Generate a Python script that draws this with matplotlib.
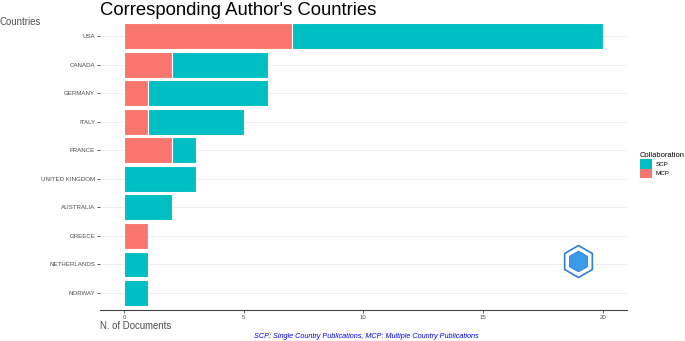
import matplotlib.pyplot as plt
from matplotlib.patches import Patch

plt.rcParams['font.family'] = ['Liberation Sans', 'DejaVu Sans']

# Данные
countries = ['USA', 'CANADA', 'GERMANY', 'ITALY', 'FRANCE', 'UNITED KINGDOM',
             'AUSTRALIA', 'GREECE', 'NETHERLANDS', 'NORWAY']
mcp = [7, 2, 1, 1, 2, 0, 0, 1, 0, 0]
scp = [13, 4, 5, 4, 1, 3, 2, 0, 1, 1]

col_scp = '#00BFC4'
col_mcp = '#F8766D'

fig = plt.figure(figsize=(6.85, 3.41), dpi=100)
ax = fig.add_axes([0.146, 0.091, 0.769, 0.853])

y = list(range(len(countries), 0, -1))
ax.barh(y, mcp, height=0.9, color=col_mcp, edgecolor='white', linewidth=0.8, zorder=3)
ax.barh(y, scp, left=mcp, height=0.9, color=col_scp, edgecolor='white', linewidth=0.8, zorder=3)

ax.set_xlim(-1, 21)
ax.set_ylim(0.4, len(countries) + 0.6)
ax.set_yticks(y)
ax.set_yticklabels(countries)
ax.set_xticks([0, 5, 10, 15, 20])

ax.tick_params(axis='both', labelsize=4.4, colors='#444444', length=2, width=0.6,
               labelcolor='#4D4D4D', pad=1.5)
ax.grid(axis='y', color='#EBEBEB', linewidth=0.6, zorder=0)

for s in ['top', 'right', 'left']:
    ax.spines[s].set_visible(False)
ax.spines['bottom'].set_color('#444444')
ax.spines['bottom'].set_linewidth(0.8)

fig.text(0.146, 0.995, "Corresponding Author's Countries", fontsize=13.3, va='top', ha='left')
fig.text(0.0, 0.935, 'Countries', fontsize=6.9, color='#4D4D4D', va='center', ha='left')
fig.text(0.146, 0.045, 'N. of Documents', fontsize=6.9, color='#4D4D4D', va='center', ha='left')
fig.text(0.535, 0.014, 'SCP: Single Country Publications, MCP: Multiple Country Publications',
         fontsize=5.2, color='#0000EE', style='italic', ha='center', va='center')

# Легенда
handles = [Patch(facecolor=col_scp), Patch(facecolor=col_mcp)]
leg = fig.legend(handles, ['SCP', 'MCP'], title='Collaboration', loc='center left',
                 bbox_to_anchor=(0.934, 0.516), frameon=False, fontsize=4.5,
                 title_fontsize=5.4, handlelength=2.0, handleheight=2.0,
                 labelspacing=0, handletextpad=0.5, borderpad=0, borderaxespad=0)
leg._legend_box.align = 'left'

# Логотип
ax.plot([18.96], [2.13], marker='h', markersize=23, markerfacecolor='white',
        markeredgecolor='#2F7FD8', markeredgewidth=1.2, zorder=5, clip_on=False)
ax.plot([18.96], [2.13], marker='h', markersize=15, markerfacecolor='#3C9BE8',
        markeredgecolor='#2F7FD8', markeredgewidth=0.6, zorder=6, clip_on=False)

fig.savefig('out.png', dpi=100)
